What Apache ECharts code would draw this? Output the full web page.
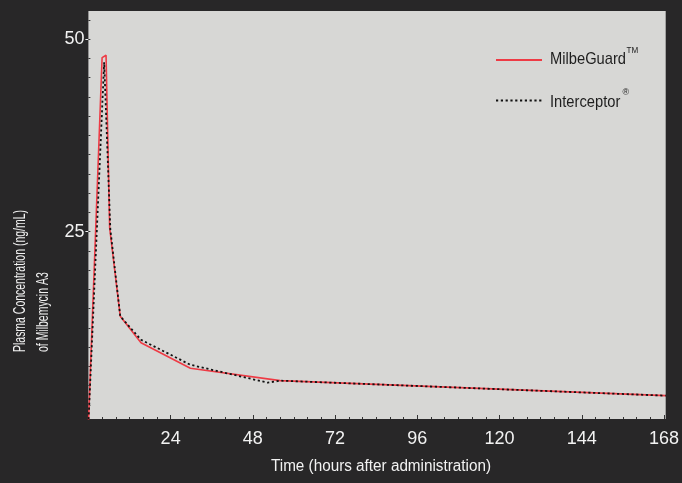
<!DOCTYPE html>
<html>
<head>
<meta charset="utf-8">
<script src="https://cdn.jsdelivr.net/npm/echarts@6/dist/echarts.min.js"></script>
<style>
html,body{margin:0;padding:0;background:#282728;}
#c{width:682px;height:483px;}
</style>
</head>
<body>
<div id="c"></div>
<script>
// ---- data ----
const hoursMilbe  = [0, 4.0, 5.15, 6.2, 9.3, 15.36, 29.76, 56.0, 168.5];
const valuesMilbe = [0, 47.6, 47.9, 25.5, 14.0, 10.57, 7.25, 5.64, 3.69];
const hoursInter  = [0, 4.6, 6.4, 9.3, 15.36, 29.76, 52.3, 56.0, 168.5];
const valuesInter = [0, 47.0, 25.3, 14.0, 10.95, 7.7, 5.38, 5.64, 3.69];
const xTickLabels = [24, 48, 72, 96, 120, 144, 168];
const yTickLabels = [25, 50];
const seriesNames = ['MilbeGuard', 'Interceptor'];
const seriesMarks = ['TM', '®'];
const yNameLines  = ['Plasma Concentration (ng/mL)', 'of Milbemycin A3'];
const xName = 'Time (hours after administration)';

const FONT = '"Liberation Sans", Arial, sans-serif';
const xMinor = []; for (let h = 4; h <= 168; h += 4) xMinor.push(h);
const yMinor = []; for (let v = 2.5; v <= 52.5; v += 2.5) yMinor.push(v);
const zip = (a, b) => a.map((x, i) => [x, b[i]]);

// horizontal squeeze so the regular font matches the condensed original
const ctx = document.createElement('canvas').getContext('2d');
function textWidth(t, size) { ctx.font = size + 'px ' + FONT; return ctx.measureText(t).width; }
const yNameScale = 142 / textWidth(yNameLines[0], 17);
const legScale = 76 / textWidth(seriesNames[0], 17);
const xNameScale = 220 / textWidth(xName, 16);

const WHITE = '#f2f2f2', DARK = '#1e1e1e';

const chart = echarts.init(document.getElementById('c'), null, {renderer: 'canvas'});
chart.setOption({
  backgroundColor: '#282728',
  animation: false,
  grid: {left: 88.4, right: 8.7, top: 11, bottom: 64, show: true, backgroundColor: '#d7d7d5', borderWidth: 0},
  xAxis: [{
    type: 'value', min: 0, max: 168.5,
    axisLine: {show: false}, splitLine: {show: false},
    axisTick: {show: true, inside: true, length: 4, customValues: xTickLabels, lineStyle: {color: '#333', width: 1}},
    axisLabel: {customValues: xTickLabels, color: WHITE, fontFamily: FONT, fontSize: 18, margin: 11}
  }, {
    type: 'value', min: 0, max: 168.5, position: 'bottom',
    axisLine: {show: false}, splitLine: {show: false},
    axisTick: {show: true, inside: true, length: 2, customValues: xMinor, lineStyle: {color: '#333', width: 1}},
    axisLabel: {show: false}
  }],
  yAxis: [{
    type: 'value', min: 0.66, max: 53.65,
    axisLine: {show: false}, splitLine: {show: false},
    axisTick: {show: true, length: 3, customValues: yTickLabels, lineStyle: {color: WHITE, width: 1}},
    axisLabel: {customValues: yTickLabels, color: WHITE, fontFamily: FONT, fontSize: 18, margin: 4}
  }, {
    type: 'value', min: 0.66, max: 53.65, position: 'left',
    axisLine: {show: false}, splitLine: {show: false},
    axisTick: {show: true, inside: true, length: 2, customValues: yMinor, lineStyle: {color: '#333', width: 1}},
    axisLabel: {show: false}
  }],
  legend: {
    orient: 'vertical', left: 495, top: 53, padding: 0, itemWidth: 46, itemHeight: 14, itemGap: 28,
    data: seriesNames, formatter: () => '',
    itemStyle: {opacity: 0, borderWidth: 0}
  },
  graphic: [
    {type: 'text', x: 20.5, y: 352, rotation: Math.PI / 2, scaleX: yNameScale,
     style: {text: yNameLines[0], fill: WHITE, font: '17px ' + FONT, align: 'left', verticalAlign: 'middle'}},
    {type: 'text', x: 43.5, y: 352, rotation: Math.PI / 2, scaleX: yNameScale,
     style: {text: yNameLines[1], fill: WHITE, font: '17px ' + FONT, align: 'left', verticalAlign: 'middle'}},
    {type: 'text', x: 381, y: 467, scaleX: xNameScale,
     style: {text: xName, fill: WHITE, font: '16px ' + FONT, align: 'center', verticalAlign: 'middle'}},
    {type: 'text', x: 550, y: 59.5, scaleX: legScale,
     style: {text: seriesNames[0], fill: DARK, font: '17px ' + FONT, align: 'left', verticalAlign: 'middle'}},
    {type: 'text', x: 626.5, y: 51, scaleX: 0.9,
     style: {text: seriesMarks[0], fill: DARK, font: '9px ' + FONT, align: 'left', verticalAlign: 'middle'}},
    {type: 'text', x: 550, y: 102.5, scaleX: legScale,
     style: {text: seriesNames[1], fill: DARK, font: '17px ' + FONT, align: 'left', verticalAlign: 'middle'}},
    {type: 'text', x: 622.5, y: 92.5, scaleX: 1,
     style: {text: seriesMarks[1], fill: DARK, font: '9px ' + FONT, align: 'left', verticalAlign: 'middle'}}
  ],
  series: [{
    name: seriesNames[0], type: 'line', data: zip(hoursMilbe, valuesMilbe),
    symbol: 'none', lineStyle: {color: '#ee3b45', width: 1.6}, itemStyle: {color: '#ee3b45'}
  }, {
    name: seriesNames[1], type: 'line', data: zip(hoursInter, valuesInter),
    symbol: 'none', lineStyle: {color: '#111', width: 1.8, type: [2.2, 2.6]}, itemStyle: {color: '#111'}
  }]
});
</script>
</body>
</html>
